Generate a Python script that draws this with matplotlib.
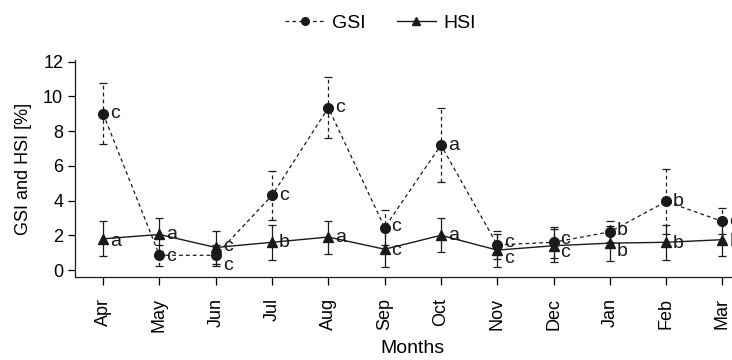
import numpy as np
import matplotlib.pyplot as plt
from matplotlib.lines import Line2D

plt.rcParams['font.family'] = ['Liberation Sans', 'DejaVu Sans']

months = ['Apr', 'May', 'Jun', 'Jul', 'Aug', 'Sep', 'Oct', 'Nov', 'Dec', 'Jan', 'Feb', 'Mar']
gsi = [9.0, 0.85, 0.85, 4.3, 9.35, 2.45, 7.2, 1.45, 1.6, 2.2, 3.95, 2.8]
gsi_err = [1.75, 0.6, 0.6, 1.4, 1.75, 1.0, 2.15, 0.8, 0.9, 0.6, 1.9, 0.75]
hsi = [1.8, 2.05, 1.3, 1.6, 1.9, 1.2, 2.0, 1.15, 1.4, 1.55, 1.6, 1.75]
hsi_err = [1.0, 0.95, 0.95, 1.0, 0.95, 1.05, 0.97, 0.95, 0.95, 1.0, 1.0, 0.95]
gsi_letters = ['c', 'c', 'c', 'c', 'c', 'c', 'a', 'c', 'c', 'b', 'b', 'c']
hsi_letters = ['a', 'a', 'c', 'b', 'a', 'c', 'a', 'c', 'c', 'b', 'b', 'b']

# label offsets in points (dx, dy)
gsi_off = [(5, 0), (5, -1), (5, -7), (5, 0), (5, 0), (5, 1), (5, 0), (5, 2), (5, 2), (5, 1), (5, 0), (5, 0)]
hsi_off = [(5, -2), (5, 0), (5, 1), (5, 0), (5, 0), (5, -1), (5, 0), (5, -6), (5, -5), (5, -6), (5, -1), (5, -1)]

fig = plt.figure(figsize=(7.32, 3.6), dpi=100)
ax = fig.add_axes([75 / 732, 83 / 360, 675.6 / 732, 217 / 360])

x = np.arange(len(months))
col = '#1a1a1a'
dash = (0, (3, 2.5))

eg = ax.errorbar(x, gsi, yerr=gsi_err, fmt='o', color=col, ms=7, capsize=3,
                 elinewidth=0.9, capthick=0.9, linestyle=dash, lw=0.9, zorder=3)
eg[2][0].set_linestyle(dash)
eh = ax.errorbar(x, hsi, yerr=hsi_err, fmt='^', color=col, ms=7, capsize=3,
                 elinewidth=0.9, capthick=0.9, linestyle='-', lw=1.0, zorder=4)

for i in range(len(months)):
    ax.annotate(gsi_letters[i], (x[i], gsi[i]), xytext=gsi_off[i], textcoords='offset points',
                ha='left', va='center', fontsize=14, color=col)
    ax.annotate(hsi_letters[i], (x[i], hsi[i]), xytext=hsi_off[i], textcoords='offset points',
                ha='left', va='center', fontsize=14, color=col)

ax.set_xlim(-0.5, 11.5)
ax.set_ylim(-0.4, 12.1)
ax.set_yticks(range(0, 13, 2))
ax.set_xticks(x)
ax.set_xticklabels(months, rotation=90, fontsize=13)
ax.tick_params(axis='y', labelsize=13, length=5, width=0.9, direction='out')
ax.tick_params(axis='x', length=6, width=0.9, direction='out', pad=9)
for s in ['top', 'right']:
    ax.spines[s].set_visible(False)
for s in ['left', 'bottom']:
    ax.spines[s].set_linewidth(0.9)
    ax.spines[s].set_color(col)
ax.set_ylabel('GSI and HSI [%]', fontsize=13, labelpad=8)
ax.set_xlabel('Months', fontsize=14, labelpad=6)

h_gsi = Line2D([], [], color=col, marker='o', ms=5.5, linestyle=dash, lw=0.9)
h_hsi = Line2D([], [], color=col, marker='^', ms=5.5, linestyle='-', lw=1.0)
fig.legend(handles=[h_gsi, h_hsi], labels=['GSI', 'HSI'], loc='center', bbox_to_anchor=(0.52, 0.935),
           ncol=2, frameon=False, fontsize=14, handlelength=2.0, columnspacing=1.6, handletextpad=0.4)

fig.savefig('out.png', dpi=100)
